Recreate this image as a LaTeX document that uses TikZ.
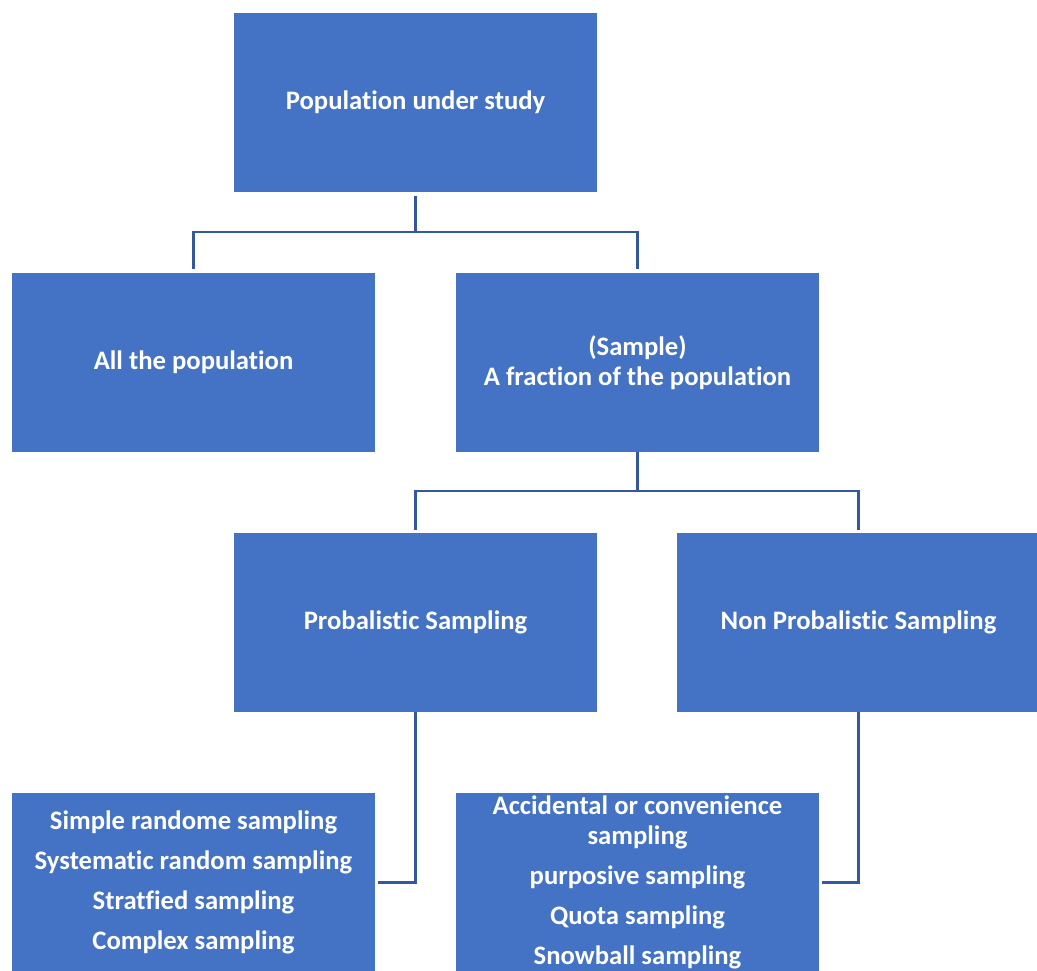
\documentclass[tikz,border=0pt]{standalone}
\usepackage{fontspec}
\setmainfont{Carlito}[Ligatures=NoCommon]
\definecolor{boxblue}{RGB}{68,114,196}
\definecolor{linkblue}{RGB}{52,88,160}
\begin{document}
\begin{tikzpicture}[x=0.75pt,y=-0.75pt,
  catbox/.style={rectangle,fill=boxblue,draw=none,minimum width=363*0.75pt,
    minimum height=179*0.75pt,inner sep=0pt,text=white,align=center,
    font=\fontsize{20}{22.5}\selectfont\bfseries},
  link/.style={draw=linkblue,line width=2.2pt}]
\useasboundingbox (0,0) rectangle (1037,970);
\clip (0,0) rectangle (1037,970);
\fill[white] (0,0) rectangle (1037,970);

\node[catbox] (pop)  at (415.5,102.5) {Population under study};
\node[catbox] (all)  at (193.5,362.5) {All the population};
\node[catbox] (frac) at (637.5,362.5) {(Sample)\\A fraction of the population};
\node[catbox] (prob) at (415.5,622.5) {Probalistic Sampling};
\node[catbox] (nonp) at (858.5,622.5) {Non Probalistic Sampling};
\node[catbox] (plist) at (193.5,882.5) {Simple randome sampling\\[7.5pt]
  Systematic random sampling\\[7.5pt]Stratfied sampling\\[7.5pt]Complex sampling};
\node[catbox] (nlist) at (637.5,882.5) {Accidental or convenience\\sampling\\[7.5pt]
  purposive sampling\\[7.5pt]Quota sampling\\[7.5pt]Snowball sampling};

\coordinate (j1) at (415.5,232);
\coordinate (j2) at (637.5,491);

\draw[link] ([yshift=-3pt]pop.south) -- (j1) -| ([yshift=3pt]all.north);
\draw[link] (j1) -| ([yshift=3pt]frac.north);
\draw[link] (frac.south) -- (j2) -| ([yshift=2pt]prob.north);
\draw[link] (j2) -| ([yshift=2pt]nonp.north);
\draw[link] (prob.south) |- ([xshift=2pt]plist.east);
\draw[link] (nonp.south) |- ([xshift=2pt]nlist.east);
\end{tikzpicture}
\end{document}
